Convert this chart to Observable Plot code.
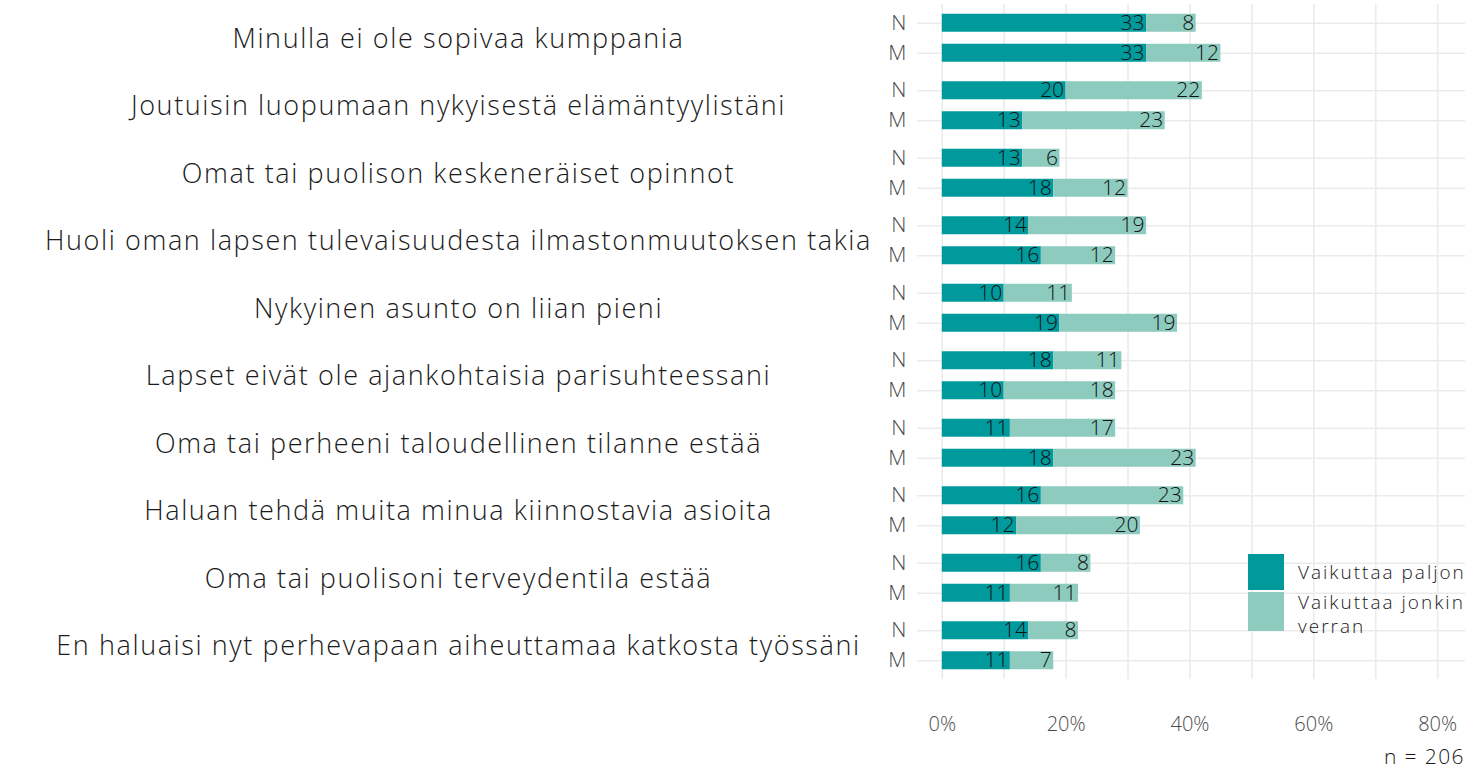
<!DOCTYPE html>
<html>
<head>
<meta charset="utf-8">
<script src="https://cdn.jsdelivr.net/npm/d3@7"></script>
<script src="https://cdn.jsdelivr.net/npm/@observablehq/plot@0.6"></script>
<style>
  html, body { margin: 0; padding: 0; background: #fff; }
  body { font-family: "Open Sans", sans-serif; font-weight: 300; }
  #wrap { position: relative; width: 1472px; height: 772px; }
  #legend { position: absolute; left: 1248px; top: 554px; font-size: 19px; color: #1a1a1a; letter-spacing: 2px; }
  .row { display: flex; align-items: flex-start; }
  .sw { width: 36px; flex: none; margin-right: 14px; }
  .lab { line-height: 24px; }
  #caption { position: absolute; right: 7px; top: 742px; font-size: 21px; color: #1a1a1a; letter-spacing: 1.4px; }
  svg text { font-family: "Open Sans", sans-serif; font-weight: 300; }
</style>
</head>
<body>
<div id="wrap">
  <div id="chart"></div>
  <div id="legend"></div>
  <div id="caption">n = 206</div>
</div>
<script>
const categories = [
  "Minulla ei ole sopivaa kumppania",
  "Joutuisin luopumaan nykyisestä elämäntyylistäni",
  "Omat tai puolison keskeneräiset opinnot",
  "Huoli oman lapsen tulevaisuudesta ilmastonmuutoksen takia",
  "Nykyinen asunto on liian pieni",
  "Lapset eivät ole ajankohtaisia parisuhteessani",
  "Oma tai perheeni taloudellinen tilanne estää",
  "Haluan tehdä muita minua kiinnostavia asioita",
  "Oma tai puolisoni terveydentila estää",
  "En haluaisi nyt perhevapaan aiheuttamaa katkosta työssäni"
];
const groups = ["N", "M"];
const seriesNames = ["Vaikuttaa paljon", "Vaikuttaa jonkin verran"];
const seriesColors = ["#009a9d", "#8ccbbd"];
const paljonN  = [33, 20, 13, 14, 10, 18, 11, 16, 16, 14];
const jonkinN  = [ 8, 22,  6, 19, 11, 11, 17, 23,  8,  8];
const paljonM  = [33, 13, 18, 16, 19, 10, 18, 12, 11, 11];
const jonkinM  = [12, 23, 12, 12, 19, 18, 23, 20, 11,  7];
const xTicks = [0, 20, 40, 60, 80];
const xGridTicks = [0, 10, 20, 30, 40, 50, 60, 70, 80];

const data = [];
categories.forEach((c, i) => {
  data.push({cat: c, g: "N", s: seriesNames[0], v: paljonN[i]});
  data.push({cat: c, g: "N", s: seriesNames[1], v: jonkinN[i]});
  data.push({cat: c, g: "M", s: seriesNames[0], v: paljonM[i]});
  data.push({cat: c, g: "M", s: seriesNames[1], v: jonkinM[i]});
});

const grid = "#ebebeb";
const chart = Plot.plot({
  width: 1472,
  height: 740,
  marginLeft: 917,
  marginRight: 7,
  marginTop: 4,
  marginBottom: 61,
  x: {domain: [-4, 84.5], axis: null},
  y: {domain: groups, paddingInner: 0.4, paddingOuter: 0.325, round: false, axis: null},
  fy: {domain: categories, padding: 0, round: false, axis: null},
  color: {domain: seriesNames, range: seriesColors},
  marks: [
    Plot.gridX({ticks: xGridTicks, stroke: grid, strokeOpacity: 1, strokeWidth: 1.6}),
    Plot.gridY({stroke: grid, strokeOpacity: 1, strokeWidth: 1.6}),
    Plot.axisY({tickSize: 0, tickPadding: 11, fontSize: 21, color: "#4d4d4d", label: null}),
    Plot.axisX({ticks: xTicks, tickFormat: d => d + "%", tickSize: 0, tickPadding: 37, fontSize: 20, color: "#4d4d4d", label: null}),
    Plot.text(categories, {fy: d => d, text: d => d, frameAnchor: "left", dx: -459, dy: 1, textAnchor: "middle", fontSize: 27, fill: "#1a1a1a", ariaDescription: "category-labels"}),
    Plot.barX(data, Plot.stackX({x: "v", y: "g", fy: "cat", fill: "s", z: "s", order: seriesNames})),
    Plot.text(data, Plot.stackX2({x: "v", y: "g", fy: "cat", z: "s", order: seriesNames, text: d => String(d.v), textAnchor: "end", dx: -2, fontSize: 21, fill: "#111"}))
  ]
});
document.getElementById("chart").appendChild(chart);

// widen category labels to match reference typography
d3.select(chart).selectAll('g[aria-description="category-labels"] text')
  .style("letter-spacing", "1.6px");

const legend = document.getElementById("legend");
const labels = ["Vaikuttaa paljon", "Vaikuttaa jonkin<br>verran"];
const swH = [36, 39];
const padT = [6, -2];
seriesNames.forEach((s, i) => {
  const row = document.createElement("div");
  row.className = "row";
  row.style.marginBottom = "2px";
  row.innerHTML = `<div class="sw" style="background:${seriesColors[i]}; height:${swH[i]}px"></div><div class="lab" style="margin-top:${padT[i]}px">${labels[i]}</div>`;
  legend.appendChild(row);
});
</script>
</body>
</html>
